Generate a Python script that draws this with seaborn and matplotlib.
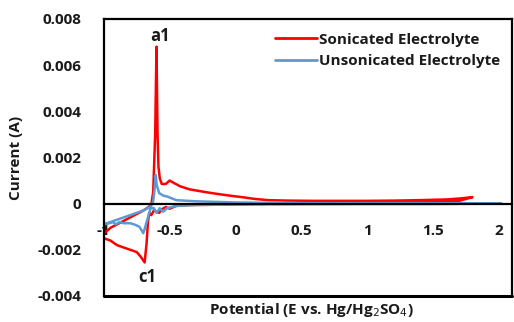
import matplotlib
matplotlib.use("Agg")
import matplotlib.pyplot as plt
import seaborn as sns
import pandas as pd

# ---- data ----
son_E = [-1.0, -0.95, -0.9, -0.85, -0.8, -0.75, -0.7, -0.66, -0.64, -0.625, -0.61, -0.60, -0.592,
         -0.585, -0.575, -0.56, -0.53, -0.50, -0.47, -0.42, -0.35, -0.25, -0.15, -0.05, 0.05, 0.15,
         0.25, 0.4, 0.6, 0.8, 1.0, 1.2, 1.4, 1.6, 1.7, 1.8,
         1.7, 1.5, 1.2, 0.9, 0.6, 0.3, 0.0, -0.2, -0.35, -0.45, -0.5, -0.53, -0.56, -0.58, -0.6,
         -0.62, -0.64, -0.655, -0.665, -0.675, -0.69, -0.72, -0.75, -0.8, -0.85, -0.9, -0.95, -1.0]
son_I = [-0.0013, -0.00105, -0.0009, -0.00075, -0.0006, -0.00045, -0.0003, -0.00015, -0.00005, 0.0005, 0.003, 0.0068, 0.003,
         0.0016, 0.0011, 0.00085, 0.00085, 0.00100, 0.00090, 0.00075, 0.00062, 0.00052, 0.00043, 0.00035, 0.00028, 0.0002,
         0.00015, 0.00013, 0.00012, 0.00012, 0.00012, 0.00013, 0.00015, 0.00018, 0.00022, 0.00028,
         0.00012, 0.00008, 0.00006, 0.00004, 0.00002, 0.0, -0.00003, -0.00005, -0.00006, -0.0001, -0.00022, -0.00015, -0.00025, -0.0004, -0.00035,
         -0.0003, -0.0005, -0.0004, -0.0008, -0.0017, -0.00255, -0.0023, -0.0021, -0.002, -0.0019, -0.0018, -0.0016, -0.0015]

unson_E = [-1.0, -0.95, -0.9, -0.85, -0.8, -0.75, -0.7, -0.66, -0.64, -0.625, -0.615, -0.606, -0.598,
           -0.58, -0.55, -0.515, -0.45, -0.3, 0.0, 0.5, 1.0, 1.5, 2.02,
           1.5, 1.0, 0.5, 0.0, -0.3, -0.45, -0.52, -0.55, -0.575, -0.6, -0.62, -0.645, -0.665, -0.69, -0.70,
           -0.73, -0.77, -0.8, -0.85, -0.88, -0.91, -0.93, -0.96, -1.0]
unson_I = [-0.0009, -0.0008, -0.0007, -0.0006, -0.0005, -0.0004, -0.0003, -0.00018, -0.0001, 0.0001, 0.0006, 0.00124, 0.0008,
           0.00046, 0.00035, 0.0003, 0.00015, 0.0001, 0.00005, 0.00002, 0.00001, 0.00001, 0.00001,
           -0.00002, -0.00002, -0.00003, -0.00004, -0.00006, -0.0001, -0.0002, -0.00035, -0.0002, -0.0004, -0.0002, -0.0002, -0.0006, -0.0011, -0.00128,
           -0.001, -0.0009, -0.00085, -0.00085, -0.0008, -0.0009, -0.0008, -0.00085, -0.0009]

series_names = ["Sonicated Electrolyte", "Unsonicated Electrolyte"]
x_ticks = [-1, -0.5, 0, 0.5, 1, 1.5, 2]
x_tick_labels = ["-1", "-0.5", "0", "0.5", "1", "1.5", "2"]
y_ticks = [-0.004, -0.002, 0, 0.002, 0.004, 0.006, 0.008]
y_tick_labels = ["-0.004", "-0.002", "0", "0.002", "0.004", "0.006", "0.008"]

df = pd.concat([
    pd.DataFrame({"E": son_E, "I": son_I, "series": series_names[0]}),
    pd.DataFrame({"E": unson_E, "I": unson_I, "series": series_names[1]}),
], ignore_index=True)

sns.set_style("white")
plt.rcParams["font.family"] = ["Open Sans", "DejaVu Sans"]

fig = plt.figure(figsize=(5.14, 3.22), dpi=100)
ax = fig.add_axes([0.202, 0.081, 0.794, 0.860])

sns.lineplot(data=df, x="E", y="I", hue="series", sort=False, estimator=None,
             units="series", palette={series_names[0]: "#FF0000", series_names[1]: "#5B9BD5"},
             linewidth=1.8, ax=ax, legend=True)

ax.set_xlim(-1, 2.1)
ax.set_ylim(-0.004, 0.008)

# frame: left/top/right spines; bottom spine moved to y=0
for s in ["left", "top", "right"]:
    ax.spines[s].set_visible(True)
    ax.spines[s].set_color("black")
    ax.spines[s].set_linewidth(1.6)
ax.spines["bottom"].set_position(("data", 0))
ax.spines["bottom"].set_color("black")
ax.spines["bottom"].set_linewidth(1.6)
ax.plot([0, 1], [0, 0], transform=ax.transAxes, color="black", lw=2.2, clip_on=False)

ax.set_xticks(x_ticks)
ax.set_xticklabels(x_tick_labels)
ax.set_yticks(y_ticks)
ax.set_yticklabels(y_tick_labels)
ax.tick_params(axis="x", direction="out", length=4, width=1.6, pad=11, labelsize=11, color="black")
ax.tick_params(axis="y", direction="in", length=4, width=1.6, pad=16, labelsize=11, color="black")
for lab in ax.get_xticklabels() + ax.get_yticklabels():
    lab.set_fontweight("bold")
    lab.set_color("#1a1a1a")

ax.set_xlabel("Potential (E vs. Hg/Hg$_2$SO$_4$)", fontsize=11, fontweight="bold", color="#1a1a1a")
ax.set_ylabel("Current (A)", fontsize=11, fontweight="bold", color="#1a1a1a")
ax.xaxis.set_label_coords(0.508, -0.02)
ax.yaxis.set_label_coords(-0.197, 0.5)

ax.text(-0.57, 0.00688, "a1", ha="center", va="bottom", fontsize=12, fontweight="bold", color="#1a1a1a")
ax.text(-0.67, -0.0032, "c1", ha="center", va="center", fontsize=12, fontweight="bold", color="#1a1a1a")

leg = ax.legend(loc="upper left", bbox_to_anchor=(0.385, 1.0), frameon=False,
                fontsize=11, handlelength=2.8, handletextpad=0.1, labelspacing=0.5)
for t in leg.get_texts():
    t.set_fontweight("bold")
    t.set_color("#1a1a1a")
for h in leg.get_lines():
    h.set_linewidth(2.0)

fig.savefig("out.png", dpi=100)
